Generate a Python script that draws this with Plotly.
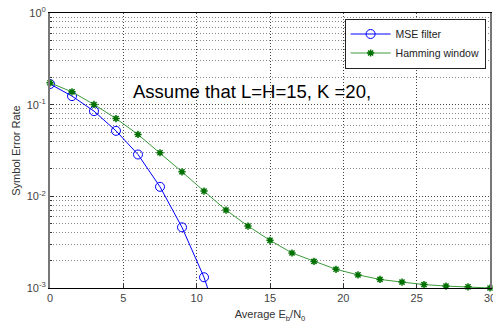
import plotly.graph_objects as go

snr_mse = [0, 1.5, 3, 4.5, 6, 7.5, 9, 10.5, 12]
ser_mse = [0.168, 0.124, 0.085, 0.0518, 0.0286, 0.0127, 0.00459, 0.00131, 0.00025]

snr_ham = [0, 1.5, 3, 4.5, 6, 7.5, 9, 10.5, 12, 13.5, 15, 16.5, 18, 19.5, 21, 22.5, 24, 25.5, 27, 28.5, 30]
ser_ham = [0.173, 0.138, 0.1005, 0.0706, 0.0473, 0.0299, 0.0185, 0.0114, 0.00708, 0.00474, 0.00331,
           0.00241, 0.00195, 0.00160, 0.00139, 0.00124, 0.00116, 0.00109, 0.00105, 0.00103, 0.0010]

x_ticks = [0, 5, 10, 15, 20, 25, 30]
y_tickvals = [1e-3, 1e-2, 1e-1, 1]
y_ticktext = ["10<sup>-3</sup>", "10<sup>-2</sup>", "10<sup>-1</sup>", "10<sup>0</sup>"]
y_minor = [m * 10.0 ** e for e in (-3, -2, -1) for m in range(2, 10)]

fig = go.Figure()
fig.add_trace(go.Scatter(
    x=snr_mse, y=ser_mse, mode="lines+markers", name="MSE filter",
    line=dict(color="#0000ff", width=1),
    marker=dict(symbol="circle-open", size=9, color="#0000ff", line=dict(width=1)),
    cliponaxis=True,
))
fig.add_trace(go.Scatter(
    x=snr_ham, y=ser_ham, mode="lines+markers", name="Hamming window",
    line=dict(color="#3c9a3c", width=1),
    marker=dict(symbol="asterisk-open", size=6, color="#007000", line=dict(width=1.5, color="#007000")),
    cliponaxis=False,
))

fig.add_annotation(x=0.46, y=0.715, xref="paper", yref="paper", text="Assume that L=H=15, K =20,",
                   showarrow=False, font=dict(size=18.5, color="black", family="Liberation Sans, Arial"),
                   xanchor="center", yanchor="middle")

grid_dash = "1px,2px"
fig.update_layout(
    width=493, height=325,
    margin=dict(l=50, r=3, t=13, b=37, autoexpand=False),
    paper_bgcolor="white", plot_bgcolor="white",
    font=dict(family="Liberation Sans, Arial", size=11, color="#444"),
    legend=dict(x=0.99, y=0.98, xanchor="right", yanchor="top",
                bgcolor="white", bordercolor="#222", borderwidth=1,
                font=dict(size=10.5, color="#222"), tracegroupgap=0, itemwidth=40),
    showlegend=True,
)
fig.update_xaxes(
    range=[0, 30], tickvals=x_ticks, showline=True, linecolor="black", linewidth=1, mirror=True,
    showgrid=True, gridcolor="#444", griddash=grid_dash, gridwidth=1, zeroline=False,
    ticks="inside", ticklen=4, tickcolor="#333", automargin=False, ticklabeloverflow="allow",
    title=dict(text="Average E<sub>b</sub>/N<sub>0</sub>", font=dict(size=11, color="#333"), standoff=7),
)
fig.update_yaxes(
    type="log", range=[-3, 0], tickvals=y_tickvals, ticktext=y_ticktext,
    showline=True, linecolor="#777", linewidth=2, mirror=True,
    showgrid=True, gridcolor="#444", griddash=grid_dash, gridwidth=1, zeroline=False,
    ticks="inside", ticklen=4, tickcolor="#333", automargin=False,
    minor=dict(tickvals=y_minor, showgrid=True, gridcolor="#888", griddash=grid_dash, gridwidth=1,
               ticks="inside", ticklen=2),
    title=dict(text="Symbol Error Rate", font=dict(size=11, color="#333"), standoff=4),
)

fig.write_html("out.html", config={"displayModeBar": False},
               post_script="document.body.style.margin='0';document.body.style.overflow='hidden';")
